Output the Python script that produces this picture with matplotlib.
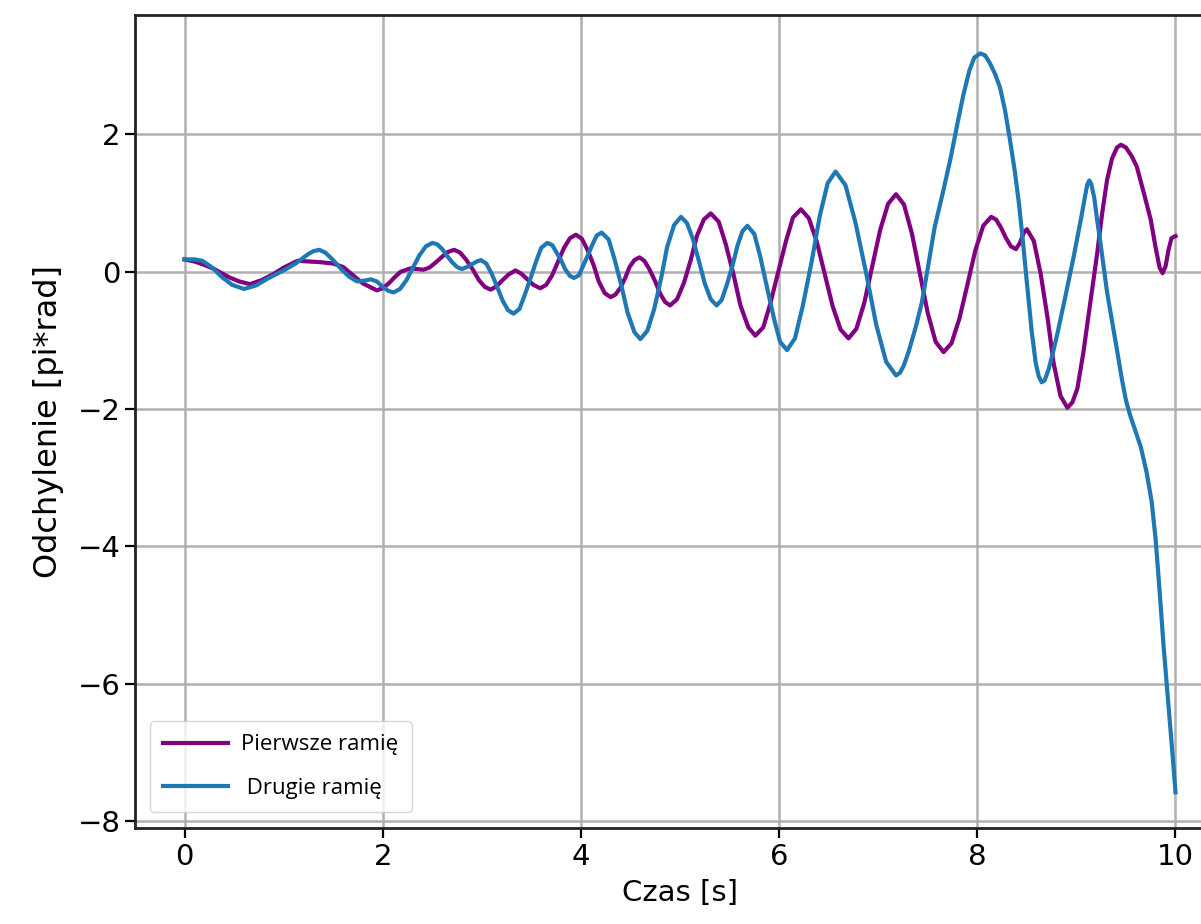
import matplotlib
matplotlib.use("Agg")
import matplotlib.pyplot as plt

# ── Data ──────────────────────────────────────────────────────────────
t_arm1 = [0.00, 0.10, 0.20, 0.30, 0.45, 0.55, 0.66, 0.78, 0.90, 1.00,
          1.14, 1.25, 1.37, 1.50, 1.60, 1.70, 1.80, 1.94, 2.00, 2.06,
          2.12, 2.18, 2.28, 2.35, 2.41, 2.47, 2.53, 2.60, 2.66, 2.72,
          2.78, 2.84, 2.91, 2.97, 3.03, 3.09, 3.15, 3.21, 3.27, 3.34,
          3.40, 3.46, 3.52, 3.59,
          3.65, 3.71, 3.77, 3.83, 3.89, 3.95,
          4.01, 4.07, 4.13, 4.18, 4.24, 4.30,
          4.35, 4.40, 4.45, 4.49, 4.54, 4.59,
          4.64, 4.69, 4.75, 4.80, 4.85, 4.90,
          4.97, 5.04, 5.11, 5.17, 5.24, 5.31,
          5.39, 5.46, 5.54, 5.61, 5.69, 5.76,
          5.84, 5.91, 5.99, 6.07, 6.14, 6.22,
          6.30, 6.38, 6.46, 6.54, 6.62, 6.70,
          6.78, 6.86, 6.94, 7.02, 7.10, 7.18,
          7.26, 7.34, 7.42, 7.50, 7.58, 7.66,
          7.74, 7.82, 7.90, 7.98, 8.06, 8.14,
          8.19, 8.24, 8.29, 8.34, 8.39, 8.43, 8.47, 8.50, 8.57, 8.64,
          8.71, 8.77, 8.84, 8.91, 8.96, 9.01, 9.07, 9.14, 9.21, 9.26,
          9.31, 9.36, 9.41, 9.45, 9.50, 9.56, 9.61, 9.68, 9.75, 9.80,
          9.84, 9.87, 9.90, 9.93, 9.96, 10.00]
y_arm1 = [0.18, 0.15, 0.10, 0.04, -0.08, -0.14, -0.18, -0.12, -0.03, 0.06,
          0.16, 0.15, 0.14, 0.12, 0.07, -0.05, -0.17, -0.27, -0.24, -0.17,
          -0.08, 0.00, 0.05, 0.04, 0.03, 0.06, 0.13, 0.22, 0.29, 0.32,
          0.28, 0.18, 0.03, -0.12, -0.22, -0.26, -0.21, -0.12, -0.04, 0.02,
          -0.03, -0.11, -0.19, -0.24,
          -0.19, -0.05, 0.15, 0.35, 0.49, 0.54,
          0.48, 0.31, 0.09, -0.14, -0.31, -0.37,
          -0.33, -0.23, -0.08, 0.07, 0.17, 0.21,
          0.16, 0.04, -0.14, -0.32, -0.44, -0.49,
          -0.40, -0.16, 0.18, 0.52, 0.76, 0.85,
          0.73, 0.41, -0.04, -0.49, -0.81, -0.93,
          -0.81, -0.47, -0.01, 0.45, 0.79, 0.91,
          0.78, 0.44, -0.03, -0.50, -0.84, -0.97,
          -0.83, -0.45, 0.08, 0.61, 0.99, 1.13,
          0.98, 0.56, -0.02, -0.60, -1.02, -1.17,
          -1.04, -0.68, -0.19, 0.31, 0.67, 0.80,
          0.76, 0.64, 0.49, 0.37, 0.33, 0.42, 0.57, 0.62, 0.45, -0.03,
          -0.68, -1.33, -1.81, -1.98, -1.90, -1.70, -1.18, -0.45, 0.27, 0.85,
          1.34, 1.65, 1.81, 1.85, 1.81, 1.68, 1.53, 1.15, 0.76, 0.35,
          0.06, -0.02, 0.08, 0.32, 0.49, 0.52]

t_arm2 = [0.00, 0.10, 0.18, 0.28, 0.38, 0.48, 0.60, 0.72, 0.85, 1.00,
          1.12, 1.25, 1.30, 1.36, 1.42, 1.50, 1.58, 1.66, 1.74, 1.81,
          1.88, 1.94, 2.00, 2.06, 2.11, 2.175, 2.24, 2.305, 2.37, 2.435,
          2.50, 2.55, 2.60, 2.65, 2.70, 2.75, 2.80, 2.85, 2.90, 2.95,
          2.99, 3.045, 3.10, 3.155, 3.21, 3.265, 3.32,
          3.38, 3.43, 3.49, 3.55, 3.60, 3.66,
          3.71, 3.75, 3.80, 3.84, 3.89, 3.93,
          3.98, 4.02, 4.07, 4.12, 4.16, 4.21,
          4.28, 4.34, 4.41, 4.47, 4.54, 4.60,
          4.67, 4.74, 4.81, 4.87, 4.94, 5.01,
          5.07, 5.13, 5.19, 5.25, 5.31, 5.37,
          5.42, 5.47, 5.53, 5.58, 5.63, 5.68,
          5.75, 5.81, 5.88, 5.95, 6.01, 6.08,
          6.16, 6.24, 6.33, 6.41, 6.49, 6.57,
          6.67, 6.77, 6.88, 6.98, 7.08, 7.18,
          7.22, 7.26, 7.31, 7.38, 7.44, 7.50, 7.57, 7.66, 7.73, 7.80,
          7.86, 7.92, 7.97, 8.03, 8.08, 8.13, 8.18, 8.23, 8.28, 8.33,
          8.38, 8.42, 8.46, 8.50, 8.55, 8.59, 8.62, 8.65, 8.68, 8.72,
          8.76, 8.81, 8.89, 8.97, 9.05, 9.09, 9.11, 9.13, 9.15, 9.18,
          9.21, 9.24, 9.31, 9.41, 9.46, 9.50, 9.54, 9.58, 9.65, 9.71,
          9.76, 9.80, 9.84, 9.88, 9.92, 9.95, 9.98, 10.00]
y_arm2 = [0.18, 0.18, 0.16, 0.06, -0.08, -0.19, -0.25, -0.20, -0.09, 0.02,
          0.12, 0.26, 0.30, 0.32, 0.28, 0.17, 0.04, -0.07, -0.14, -0.13,
          -0.11, -0.14, -0.22, -0.28, -0.30, -0.25, -0.12, 0.06, 0.24, 0.37,
          0.42, 0.40, 0.33, 0.23, 0.14, 0.07, 0.04, 0.07, 0.11, 0.15,
          0.17, 0.12, -0.03, -0.22, -0.42, -0.56, -0.61,
          -0.54, -0.35, -0.10, 0.16, 0.35, 0.42,
          0.39, 0.29, 0.17, 0.04, -0.06, -0.09,
          -0.05, 0.08, 0.24, 0.41, 0.53, 0.57,
          0.47, 0.18, -0.21, -0.59, -0.88, -0.98,
          -0.86, -0.54, -0.09, 0.36, 0.68, 0.80,
          0.71, 0.48, 0.16, -0.17, -0.40, -0.49,
          -0.41, -0.20, 0.09, 0.38, 0.59, 0.67,
          0.55, 0.22, -0.24, -0.69, -1.02, -1.14,
          -0.97, -0.49, 0.16, 0.81, 1.29, 1.46,
          1.26, 0.72, -0.03, -0.77, -1.31, -1.51,
          -1.47, -1.36, -1.15, -0.80, -0.45, 0.05, 0.65, 1.20, 1.65, 2.16,
          2.58, 2.93, 3.12, 3.18, 3.15, 3.03, 2.88, 2.68, 2.35, 1.92,
          1.45, 1.00, 0.45, -0.15, -0.88, -1.33, -1.52, -1.61, -1.58, -1.42,
          -1.20, -0.89, -0.35, 0.20, 0.80, 1.12, 1.27, 1.33, 1.28, 1.08,
          0.75, 0.45, -0.30, -1.14, -1.57, -1.87, -2.08, -2.25, -2.55, -2.93,
          -3.35, -3.90, -4.65, -5.45, -6.15, -6.67, -7.20, -7.58]

LABELS = ["Pierwsze ramię", " Drugie ramię"]
COLORS = ["purple", "#1f77b4"]

# ── Plot ──────────────────────────────────────────────────────────────
plt.rcParams["font.size"] = 21

fig = plt.figure(figsize=(12.01, 9.24), dpi=100)
ax = fig.add_axes([0.1124, 0.1039, 0.9076, 0.8799])

ax.plot(t_arm1, y_arm1, color=COLORS[0], lw=3.0, label=LABELS[0])
ax.plot(t_arm2, y_arm2, color=COLORS[1], lw=3.0, label=LABELS[1])

ax.set_xlim(-0.5, 10.5)
ax.set_ylim(-8.1, 3.74)
ax.set_xticks([0, 2, 4, 6, 8, 10])
ax.set_yticks([-8, -6, -4, -2, 0, 2])
ax.grid(True, color="#b0b0b0", lw=1.8)
for s in ax.spines.values():
    s.set_linewidth(2.0)
    s.set_color("#222222")
ax.tick_params(length=7, width=1.6, labelsize=21)

ax.set_xlabel("Czas [s]", fontsize=21, labelpad=6)
ax.set_ylabel("Odchylenie [pi*rad]", fontsize=23, labelpad=10)

# legend box spans roughly x 150-408, y 713-812 px in the reference
ax.legend(loc="lower left", prop={"family": "Open Sans", "size": 16},
          handlelength=2.9, handletextpad=0.6, borderpad=0.6,
          labelspacing=1.0, borderaxespad=0,
          bbox_to_anchor=(0.0138, 0.0197))

fig.savefig("out.png", dpi=100)
